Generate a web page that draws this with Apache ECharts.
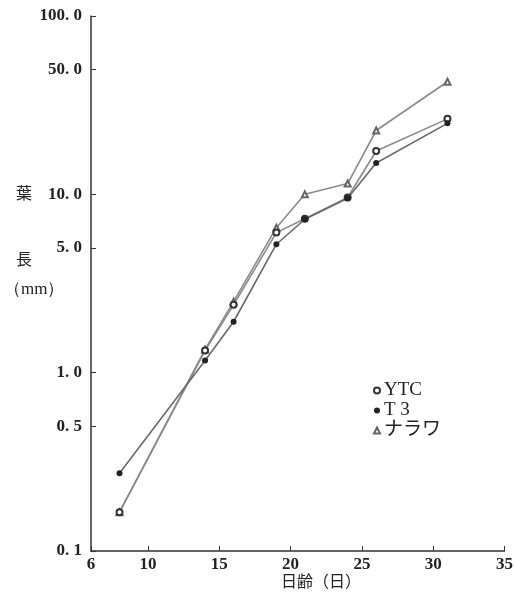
<!DOCTYPE html>
<html><head><meta charset="utf-8">
<script src="https://cdn.jsdelivr.net/npm/echarts@6/dist/echarts.min.js"></script>
<style>html,body{margin:0;padding:0;background:#fff}#c{width:516px;height:598px}</style>
</head><body><div id="c"></div>
<script>
const days = [8, 14, 16, 19, 21, 24, 26, 31];
const ytc = [0.165, 1.33, 2.4, 6.1, 7.3, 9.6, 17.5, 26.5];
const t3 = [0.273, 1.17, 1.93, 5.25, 7.25, 9.5, 15.0, 25.0];
const narawa = [0.165, 1.35, 2.5, 6.5, 10.0, 11.5, 22.8, 42.8];
const yTicks = [0.1, 0.5, 1, 5, 10, 50, 100];
const yTickLabels = ['0. 1', '0. 5', '1. 0', '5. 0', '10. 0', '50. 0', '100. 0'];
const xTicks = [6, 10, 15, 20, 25, 30, 35];

const pair = arr => days.map((d, i) => [d, arr[i]]);
const numFont = {fontFamily: 'Liberation Serif', fontWeight: 'bold', fontSize: 17, color: '#222'};
const lineCol = '#8a8a8a';

const chart = echarts.init(document.getElementById('c'));
chart.setOption({
  animation: false,
  grid: {left: 91, right: 11, top: 16, bottom: 47},
  xAxis: {
    type: 'value', min: 6, max: 35,
    axisLine: {lineStyle: {color: '#333', width: 1.5}},
    axisTick: {inside: true, length: 5, customValues: xTicks, lineStyle: {color: '#333'}},
    axisLabel: Object.assign({customValues: xTicks, margin: 5}, numFont),
    splitLine: {show: false}
  },
  yAxis: {
    type: 'log', logBase: 10, min: 0.1, max: 100,
    axisLine: {show: true, lineStyle: {color: '#333', width: 1.5}},
    axisTick: {show: true, inside: true, length: 5, customValues: yTicks, lineStyle: {color: '#333'}},
    axisLabel: Object.assign({customValues: yTicks, margin: 9,
      formatter: v => { const i = yTicks.findIndex(t => Math.abs(t - v) / t < 1e-6); return i >= 0 ? yTickLabels[i] : ''; }
    }, numFont),
    splitLine: {show: false}
  },
  legend: {
    orient: 'vertical', left: 368, top: 376, itemGap: 1, itemWidth: 6, itemHeight: 6,
    textStyle: {fontFamily: 'Liberation Serif, Noto Sans CJK JP', fontSize: 19, color: '#222', padding: [0, 0, 0, -1]},
    data: [
      {name: 'YTC', icon: 'emptyCircle'},
      {name: 'T 3', icon: 'circle'},
      {name: 'ナラワ', icon: 'emptyTriangle'}
    ]
  },
  graphic: [
    {type: 'text', left: 16, top: 185, style: {text: '葉', font: '16px "Noto Sans CJK JP"', fill: '#222'}},
    {type: 'text', left: 16, top: 251, style: {text: '長', font: '16px "Noto Sans CJK JP"', fill: '#222'}},
    {type: 'text', left: 4, top: 281, style: {text: '（mm）', font: '17px "Liberation Serif"', fill: '#222'}},
    {type: 'text', left: 281, top: 573, style: {text: '日齢（日）', font: '16px "Noto Sans CJK JP"', fill: '#222'}}
  ],
  series: [
    {name: 'ナラワ', type: 'line', data: pair(narawa), symbol: 'emptyTriangle', symbolSize: 6,
      lineStyle: {color: lineCol, width: 1.6}, itemStyle: {color: '#666', borderWidth: 1}},
    {name: 'YTC', type: 'line', data: pair(ytc), symbol: 'emptyCircle', symbolSize: 6,
      lineStyle: {color: lineCol, width: 1.6}, itemStyle: {color: '#333', borderWidth: 1.3}},
    {name: 'T 3', type: 'line', data: pair(t3), symbol: 'circle', symbolSize: 6,
      lineStyle: {color: '#6a6a6a', width: 1.6}, itemStyle: {color: '#222'}}
  ]
});
</script></body></html>
